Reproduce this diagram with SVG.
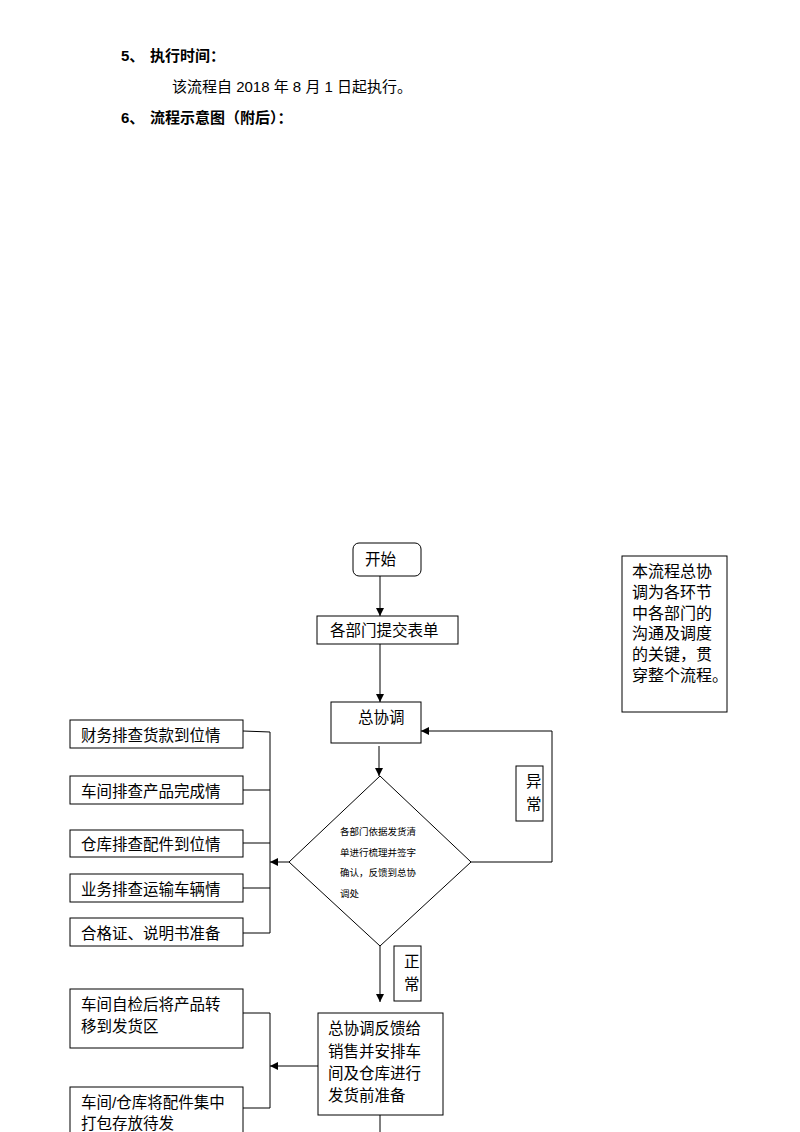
<svg xmlns="http://www.w3.org/2000/svg" width="800" height="1132" viewBox="0 0 800 1132">
<defs>
<style>
text{font-family:"Liberation Sans","Noto Sans CJK SC",sans-serif;fill:#000}
.h{font-size:15px;font-weight:bold}
.b{font-size:15px}
.cjk{font-family:"Noto Sans CJK SC","Liberation Sans",sans-serif}
.n{font-size:15.5px}
.d{font-size:9.5px}
.box{fill:#fff;stroke:#000;stroke-width:1}
.ln{fill:none;stroke:#000;stroke-width:1}
</style>
<marker id="ah" viewBox="0 0 10 10" refX="10" refY="5" markerWidth="8" markerHeight="8" markerUnits="userSpaceOnUse" orient="auto">
<path d="M0,0 L10,5 L0,10 z" fill="#000"/>
</marker>
</defs>
<rect width="800" height="1132" fill="#fff"/>
<g id="header">
<text class="h" x="121" y="61">5、</text>
<text class="h cjk" x="150" y="61">执行时间：</text>
<text class="b" x="172" y="92">该流程自 2018 年 8 月 1 日起执行。</text>
<text class="h" x="121" y="123">6、</text>
<text class="h cjk" x="150" y="123">流程示意图（附后）：</text>
</g>
<g id="connectors">
<line class="ln" x1="380" y1="576" x2="380" y2="616" marker-end="url(#ah)"/>
<line class="ln" x1="380" y1="644" x2="380" y2="702" marker-end="url(#ah)"/>
<line class="ln" x1="379" y1="746" x2="379" y2="776" marker-end="url(#ah)"/>
<polyline class="ln" points="471,862 552,862 552,731 421,731" marker-end="url(#ah)"/>
<line class="ln" x1="289" y1="862" x2="270" y2="862" marker-end="url(#ah)"/>
<polyline class="ln" points="243,731 270,732 270,933 243,933"/>
<line class="ln" x1="243" y1="790" x2="270" y2="790"/>
<line class="ln" x1="243" y1="843" x2="270" y2="843"/>
<line class="ln" x1="243" y1="888" x2="270" y2="888"/>
<line class="ln" x1="380" y1="946" x2="380" y2="1002" marker-end="url(#ah)"/>
<line class="ln" x1="318" y1="1066" x2="270" y2="1066" marker-end="url(#ah)"/>
<polyline class="ln" points="243,1013 270,1013 270,1108 243,1108"/>
<line class="ln" x1="380" y1="1115" x2="380" y2="1132"/>
</g>
<g id="start">
<rect class="box" x="353" y="543" width="68" height="33" rx="6"/>
<text class="n" x="365" y="565">开始</text>
</g>
<g id="submit">
<rect class="box" x="317" y="616" width="141" height="28"/>
<text class="n" x="330" y="636">各部门提交表单</text>
</g>
<g id="coord">
<rect class="box" x="331" y="702" width="90" height="41"/>
<text class="n" x="358" y="723">总协调</text>
</g>
<g id="decision">
<polygon class="box" points="380,776 471,862 380,946 289,862"/>
<text class="d" x="340" y="835">各部门依据发货清</text>
<text class="d" x="340" y="856">单进行梳理并签字</text>
<text class="d" x="340" y="876">确认，反馈到总协</text>
<text class="d" x="340" y="897">调处</text>
</g>
<g id="abnormal">
<rect class="box" x="516" y="766" width="27" height="55"/>
<text class="n" x="526" y="787">异</text>
<text class="n" x="526" y="810">常</text>
</g>
<g id="normal">
<rect class="box" x="394" y="946" width="27" height="55"/>
<text class="n" x="404" y="967">正</text>
<text class="n" x="404" y="990">常</text>
</g>
<g id="note">
<rect class="box" x="622" y="556" width="105" height="156"/>
<text class="n" x="632" y="577" style="font-size:16px">本流程总协</text>
<text class="n" x="632" y="598" style="font-size:16px">调为各环节</text>
<text class="n" x="632" y="619" style="font-size:16px">中各部门的</text>
<text class="n" x="632" y="639" style="font-size:16px">沟通及调度</text>
<text class="n" x="632" y="660" style="font-size:16px">的关键，贯</text>
<text class="n" x="632" y="681" style="font-size:16px">穿整个流程。</text>
</g>
<g id="check1">
<rect class="box" x="70" y="720" width="173" height="28"/>
<text class="n" x="81" y="741">财务排查货款到位情</text>
</g>
<g id="check2">
<rect class="box" x="70" y="776" width="173" height="28"/>
<text class="n" x="81" y="797">车间排查产品完成情</text>
</g>
<g id="check3">
<rect class="box" x="70" y="830" width="173" height="27"/>
<text class="n" x="81" y="850">仓库排查配件到位情</text>
</g>
<g id="check4">
<rect class="box" x="70" y="874" width="173" height="28"/>
<text class="n" x="81" y="895">业务排查运输车辆情</text>
</g>
<g id="check5">
<rect class="box" x="70" y="918" width="173" height="28"/>
<text class="n" x="81" y="939">合格证、说明书准备</text>
</g>
<g id="feedback">
<rect class="box" x="318" y="1013" width="125" height="102"/>
<text class="n" x="328" y="1034">总协调反馈给</text>
<text class="n" x="328" y="1057">销售并安排车</text>
<text class="n" x="328" y="1079">间及仓库进行</text>
<text class="n" x="328" y="1101">发货前准备</text>
</g>
<g id="prepA">
<rect class="box" x="70" y="989" width="173" height="59"/>
<text class="n" x="81" y="1010">车间自检后将产品转</text>
<text class="n" x="81" y="1032">移到发货区</text>
</g>
<g id="prepB">
<rect class="box" x="70" y="1087" width="173" height="60"/>
<text class="n" x="81" y="1108">车间/仓库将配件集中</text>
<text class="n" x="81" y="1129">打包存放待发</text>
</g>
</svg>
